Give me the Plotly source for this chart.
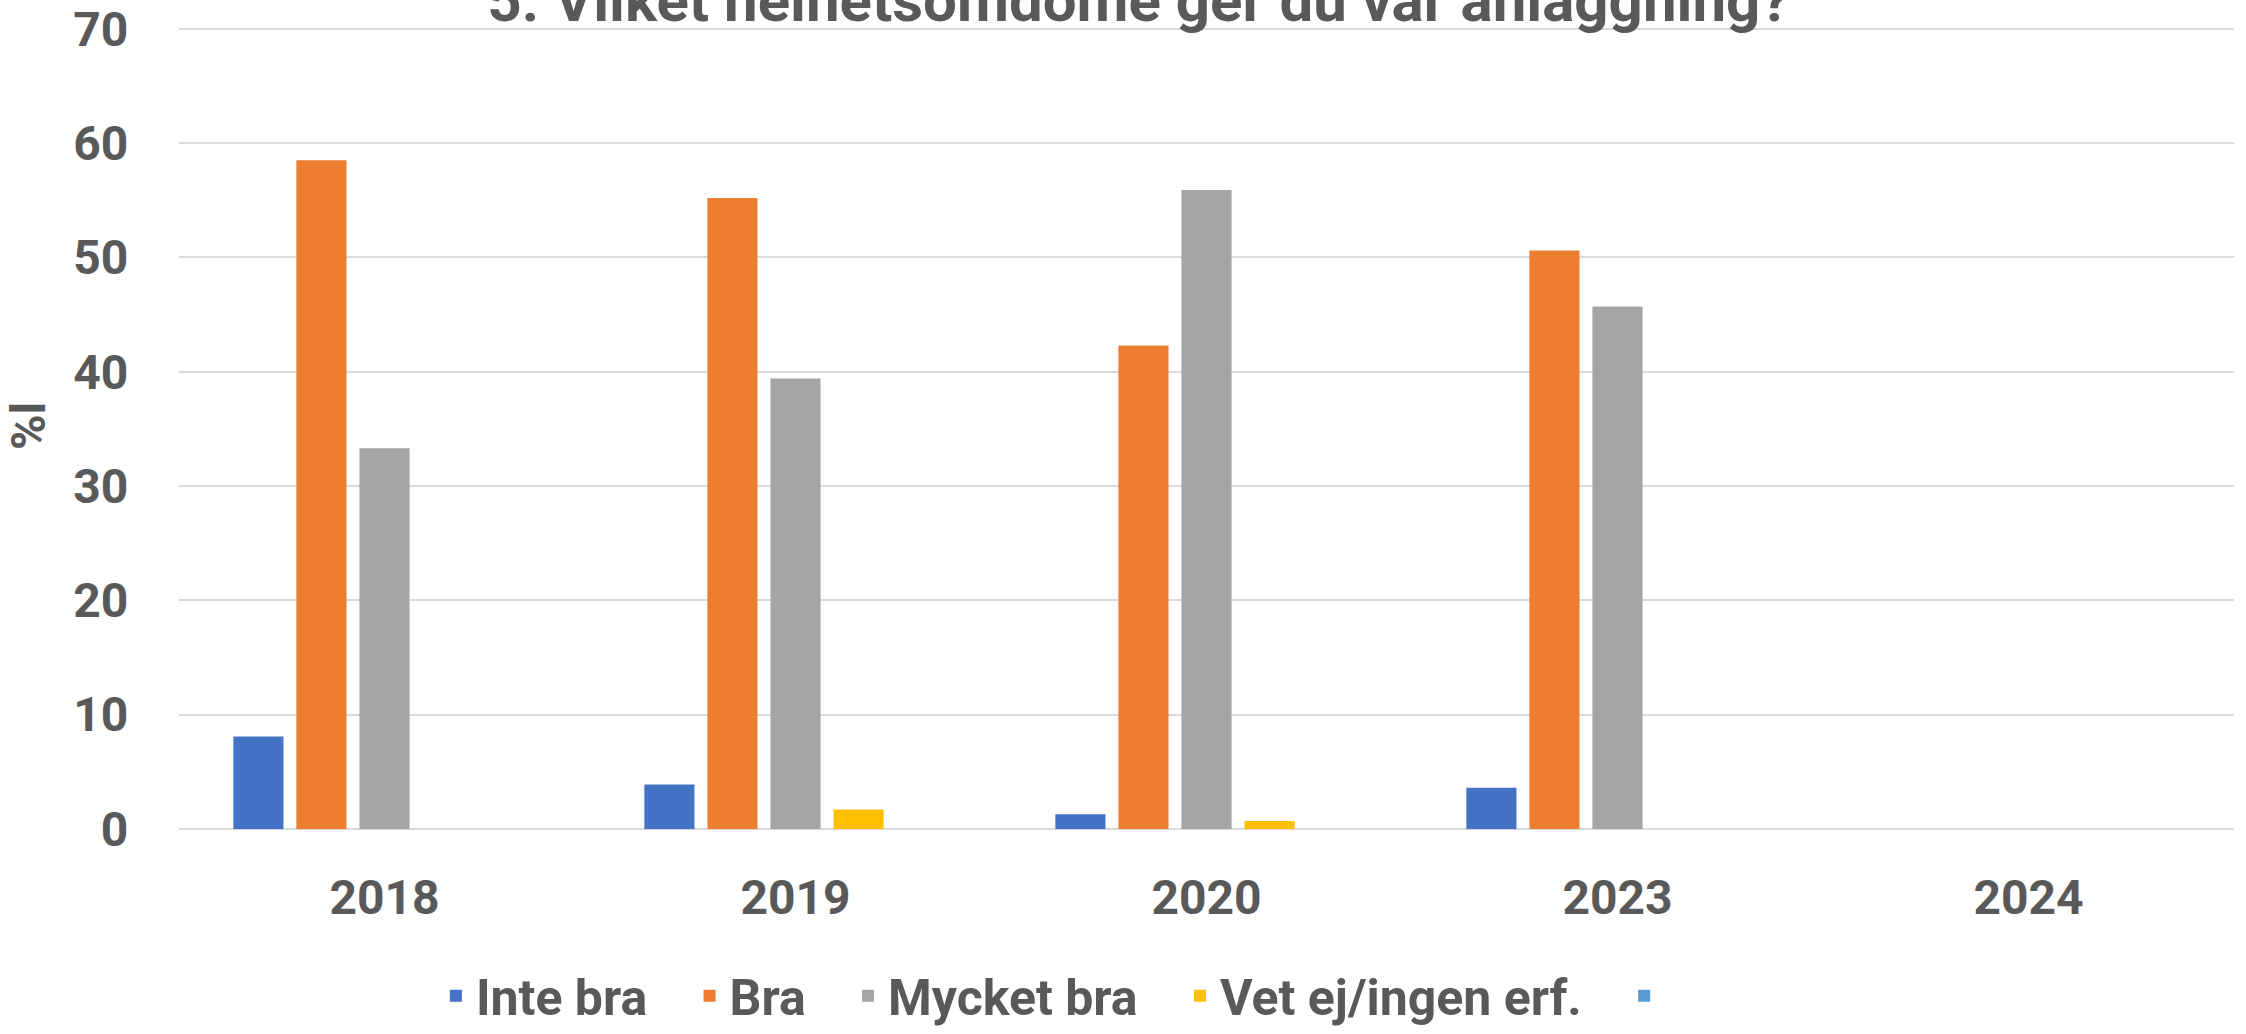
import plotly.graph_objects as go

# survey answers, share in percent per year
years = ["2018", "2019", "2020", "2023", "2024"]
inte_bra = [8.1, 3.9, 1.3, 3.6, None]
bra = [58.5, 55.2, 42.3, 50.6, None]
mycket_bra = [33.3, 39.4, 55.9, 45.7, None]
vet_ej = [0, 1.7, 0.7, 0, None]
tom = [None, None, None, None, None]   # empty fifth series, only in the legend
y_ticks = [0, 10, 20, 30, 40, 50, 60, 70]

serier = [
    ("Inte bra", inte_bra, "#4472C4"),
    ("Bra", bra, "#ED7D31"),
    ("Mycket bra", mycket_bra, "#A5A5A5"),
    ("Vet ej/ingen erf.", vet_ej, "#FFC000"),
    ("", tom, "#5B9BD5"),
]

font_namn = "Roboto, Arial, sans-serif"
grå_text = "#595959"
luft = "\u00a0" * 3   # extra room after each legend text, like Excel

fig = go.Figure()
for namn, varden, farg in serier:
    fig.add_trace(go.Bar(x=years, y=varden,
                         name=namn + luft if namn else " ",
                         marker_color=farg, marker_line_width=0))

fig.update_layout(
    width=2246, height=1034,
    paper_bgcolor="white", plot_bgcolor="white",
    margin=dict(l=179, r=12, t=23, b=205, autoexpand=False),
    barmode="group", bargap=0.233, bargroupgap=0.205,
    font=dict(family=font_namn, color=grå_text, size=48, weight="bold"),
    title=dict(text="5. Vilket helhetsomdöme ger du vår anläggning?",
               x=0.507, xref="container", xanchor="center",
               y=1.0, yref="container", yanchor="middle",
               font=dict(size=60, color=grå_text, family=font_namn,
                         weight="bold")),
    legend=dict(orientation="h", x=0.125, xanchor="left",
                y=-0.207, yanchor="middle",
                font=dict(size=50, color=grå_text, family=font_namn,
                          weight="bold"),
                itemclick=False),
    showlegend=True,
)

# top a little above 70 so the 70 gridline is drawn
fig.update_yaxes(range=[0, 70.5], tickvals=y_ticks,
                 showgrid=True, gridcolor="#D9D9D9",
                 gridwidth=2, zeroline=True, zerolinecolor="#D9D9D9",
                 zerolinewidth=2, showline=False,
                 ticks="outside", ticklen=40, tickcolor="rgba(0,0,0,0)",
                 tickfont=dict(size=48, color=grå_text, family=font_namn,
                               weight="bold"),
                 title=dict(text="%l", standoff=20,
                            font=dict(size=48, color=grå_text,
                                      family=font_namn, weight="bold")))
fig.update_xaxes(type="category", showgrid=False, showline=False,
                 ticks="outside", ticklen=26, tickcolor="rgba(0,0,0,0)",
                 tickfont=dict(size=48, color=grå_text, family=font_namn,
                               weight="bold"))

# no default page margin, so the figure sits in the corner of the window
fig.write_html("out.html", config={"displayModeBar": False},
               post_script="document.body.style.margin='0px';")
